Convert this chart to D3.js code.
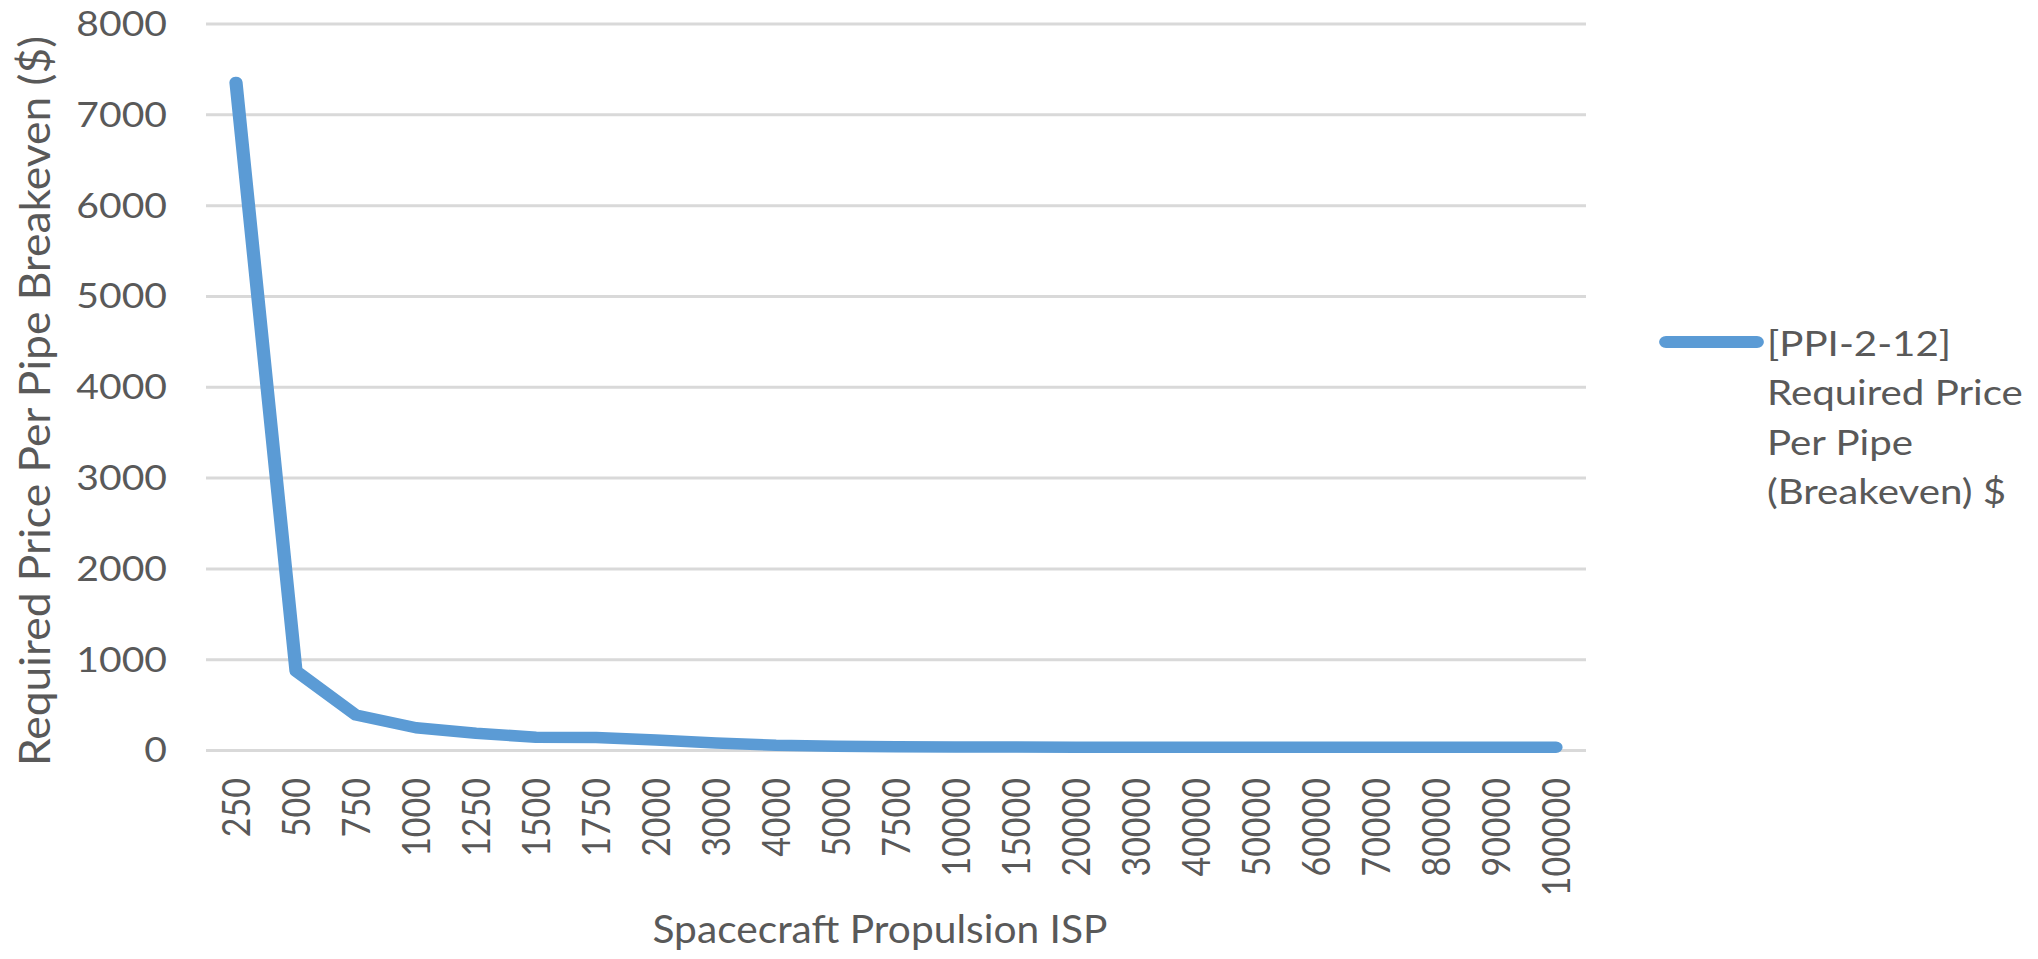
<!DOCTYPE html>
<html>
<head>
<meta charset="utf-8">
<script src="https://cdn.jsdelivr.net/npm/d3@7"></script>
<style>
  html, body { margin: 0; padding: 0; background: #ffffff; }
  svg { display: block; }
</style>
</head>
<body>
<script>
// ---------------- DATA ----------------
const categories = ["250","500","750","1000","1250","1500","1750","2000","3000","4000","5000","7500",
  "10000","15000","20000","30000","40000","50000","60000","70000","80000","90000","100000"];
const priceValues = [7350, 870, 385, 245, 185, 140, 137, 110, 78, 52, 42, 36,
  33, 32, 31, 30, 30, 30, 30, 30, 30, 30, 30];
const yTickValues = [0, 1000, 2000, 3000, 4000, 5000, 6000, 7000, 8000];
const seriesName = "[PPI-2-12] Required Price Per Pipe (Breakeven) $";
const legendLines = ["[PPI-2-12]", "Required Price", "Per Pipe", "(Breakeven) $"];
const xTitle = "Spacecraft Propulsion ISP";
const yTitle = "Required Price Per Pipe Breakeven ($)";

// ---------------- LAYOUT ----------------
const W = 2038, H = 959;
const SX = 1.15;                 // horizontal stretch of the original picture
const fx = v => v / SX;          // full-pixel x -> inner x
const plot = { left: 206, right: 1586, top: 23.5, bottom: 750 };
const font = "Lato, 'Open Sans', sans-serif";
const textColor = "#595959";
const lineColor = "#5b9bd5";
const gridColor = "#d9d9d9";

const svg = d3.select("body").append("svg")
  .attr("width", W).attr("height", H)
  .attr("viewBox", `0 0 ${W / SX} ${H}`)
  .attr("preserveAspectRatio", "none");

const x = d3.scalePoint().domain(categories)
  .range([fx(plot.left), fx(plot.right)]).padding(0.5);
const y = d3.scaleLinear().domain([0, 8000]).range([plot.bottom, plot.top]);

// Y axis with gridlines
const yAxis = svg.append("g")
  .attr("transform", `translate(${fx(plot.left)},0)`)
  .call(d3.axisLeft(y).tickValues(yTickValues).tickFormat(d3.format("d"))
    .tickSizeInner(-(fx(plot.right) - fx(plot.left)))
    .tickSizeOuter(0).tickPadding(fx(39)));
yAxis.select(".domain").remove();
yAxis.selectAll(".tick line").attr("stroke", gridColor).attr("stroke-width", 3);
yAxis.selectAll(".tick text")
  .attr("fill", textColor).style("font-family", font).style("font-size", "34px")
  .attr("dy", "0.35em");

// X axis labels (rotated)
const xAxis = svg.append("g")
  .attr("transform", `translate(0,${plot.bottom})`)
  .call(d3.axisBottom(x).tickSize(0).tickPadding(0));
xAxis.select(".domain").remove();
xAxis.selectAll(".tick text")
  .attr("fill", textColor).style("font-family", font).style("font-size", "34px")
  .attr("text-anchor", "end")
  .attr("transform", "rotate(-90)")
  .attr("x", -28).attr("y", 0).attr("dy", "0.35em");

// Series line
const data = categories.map((c, i) => ({ c, v: priceValues[i] }));
svg.append("path").datum(data)
  .attr("fill", "none").attr("stroke", lineColor).attr("stroke-width", 11.5)
  .attr("stroke-linejoin", "round").attr("stroke-linecap", "round")
  .attr("d", d3.line().x(d => x(d.c)).y(d => y(d.v)));

// Axis titles
svg.append("text")
  .attr("x", fx(880)).attr("y", 943)
  .attr("text-anchor", "middle")
  .attr("fill", textColor).style("font-family", font).style("font-size", "39px")
  .attr("textLength", fx(455)).attr("lengthAdjust", "spacingAndGlyphs")
  .text(xTitle);

svg.append("text")
  .attr("transform", `translate(${fx(50)},401) rotate(-90)`)
  .attr("text-anchor", "middle")
  .attr("fill", textColor).style("font-family", font).style("font-size", "37px")
  .attr("textLength", 730).attr("lengthAdjust", "spacingAndGlyphs")
  .text(yTitle);

// Legend
const legend = svg.append("g").attr("class", "legend");
legend.append("line")
  .attr("x1", fx(1666)).attr("x2", fx(1757)).attr("y1", 342).attr("y2", 342)
  .attr("stroke", lineColor).attr("stroke-width", 12).attr("stroke-linecap", "round");
legend.append("text")
  .attr("fill", textColor).style("font-family", font).style("font-size", "35px")
  .selectAll("tspan").data(legendLines).join("tspan")
  .attr("x", fx(1767)).attr("y", (d, i) => 356 + i * 49.5)
  .text(d => d);
legend.append("title").text(seriesName);
</script>
</body>
</html>
